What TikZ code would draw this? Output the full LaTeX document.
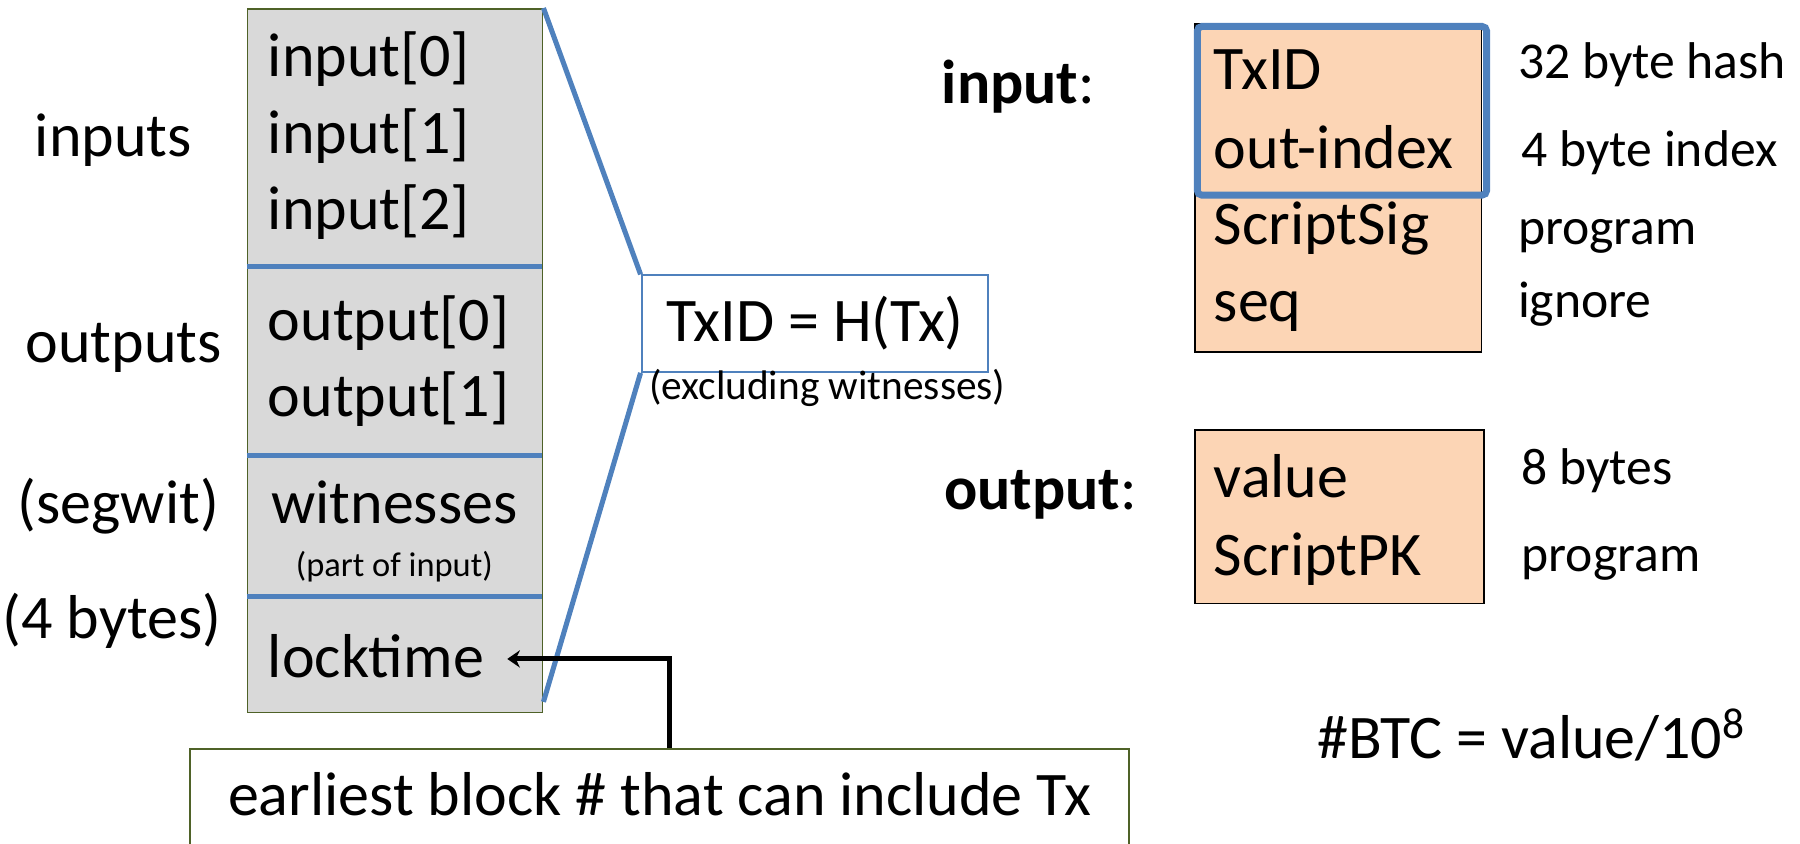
\documentclass[tikz,border=0pt]{standalone}
\usepackage{fontspec}
\setmainfont{Carlito}
\usetikzlibrary{arrows.meta}
\definecolor{gfill}{HTML}{D9D9D9}
\definecolor{olivebd}{HTML}{4F6228}
\definecolor{bl}{HTML}{4F81BD}
\definecolor{tanfill}{HTML}{FCD5B5}
\begin{document}
\begin{tikzpicture}[x=0.5pt,y=-0.5pt,
  txt/.style={anchor=base west, inner sep=0pt, font=\fontsize{27}{32}\selectfont},
  ctxt/.style={anchor=base, inner sep=0pt, font=\fontsize{27}{32}\selectfont},
  note/.style={anchor=base west, inner sep=0pt, font=\fontsize{22.5}{27}\selectfont},
  divider/.style={draw=bl, line width=2.2pt},
  zoomline/.style={draw=bl, line width=2.2pt},
  field/.style={draw=black, line width=0.7pt, fill=tanfill, anchor=north west, inner sep=0pt},
]
\useasboundingbox (0,0) rectangle (1568,735);

% transaction box
\node[draw=olivebd, line width=0.7pt, fill=gfill, anchor=north west, inner sep=0pt,
      minimum width=128.5pt, minimum height=306.5pt] (tx) at (215,7) {};
\draw[divider] (215,232) -- (472,232);
\draw[divider] (215,397) -- (472,397);
\draw[divider] (215,520) -- (472,520);

\node[txt] (in0) at (233,67) {input[0]};
\node[txt] (in1) at (233,134) {input[1]};
\node[txt] (in2) at (233,200) {input[2]};
\node[txt] (out0) at (233,297) {output[0]};
\node[txt] (out1) at (233,363) {output[1]};
\node[ctxt] (wit) at (343.5,456) {witnesses};
\node[anchor=base, inner sep=0pt, font=\fontsize{15}{18}\selectfont] (part) at (343.5,502) {(part of input)};
\node[txt] (lock) at (233,590) {locktime};

% left labels
\node[txt] (linputs) at (30,136) {inputs};
\node[txt] (loutputs) at (22,316) {outputs};
\node[txt] (lsegwit) at (15,456) {(segwit)};
\node[txt] (lbytes) at (2,556) {(4 bytes)};

% TxID box
\node[draw=bl, line width=0.9pt, anchor=north west, inner sep=0pt,
      minimum width=151pt, minimum height=42pt, font=\fontsize{27}{32}\selectfont] (hash) at (558,239) {TxID = H(Tx)};
\node[anchor=base west, inner sep=0pt, font=\fontsize{18}{22}\selectfont] (excl) at (565,348) {(excluding witnesses)};
\draw[zoomline] (tx.north east) -- (hash.north west);
\draw[zoomline] (hash.south west) -- ([yshift=5pt]tx.south east);

% earliest block box
\node[draw=olivebd, line width=0.7pt, anchor=north west, inner xsep=0pt, inner ysep=0pt,
      minimum width=409pt, text height=29pt, text depth=30pt,
      font=\fontsize{27}{32}\selectfont] (earliest) at (165,652) {earliest block \# that can include Tx};
\coordinate (bend) at (583,574);
\draw[line width=2.2pt, -{Stealth[length=5.5pt,width=7.5pt]}]
  (earliest.north -| bend) -- (bend) -- ([xshift=10pt]lock.east |- bend);

% input structure
\node[anchor=base west, inner sep=0pt, font=\fontsize{27}{32}\selectfont] (linput) at (820,90) {\textbf{input}:};
\node[field, minimum width=125pt, minimum height=143pt] (inbox) at (1040,20) {};
\node[draw=bl, line width=3pt, rounded corners=2pt, anchor=north west, inner sep=0pt,
      minimum width=126pt, minimum height=73.5pt] (hl) at (1040,20) {};
\node[txt] (ftxid) at (1057,78) {TxID};
\node[txt] (fidx) at (1057,147) {out-index};
\node[txt] (fsig) at (1057,213) {ScriptSig};
\node[txt] (fseq) at (1057,280) {seq};
\node[note] (n1) at (1322,68) {32 byte hash};
\node[note] (n2) at (1325,145) {4 byte index};
\node[note] (n3) at (1322,213) {program};
\node[note] (n4) at (1322,277) {ignore};

% output structure
\node[anchor=base west, inner sep=0pt, font=\fontsize{27}{32}\selectfont] (loutput) at (822,444) {\textbf{output}:};
\node[field, minimum width=126pt, minimum height=75.5pt] (outbox) at (1040,374) {};
\node[txt] (fval) at (1057,433) {value};
\node[txt] (fpk) at (1057,501) {ScriptPK};
\node[note] (n5) at (1325,422) {8 bytes};
\node[note] (n6) at (1325,498) {program};

\node[txt] (btc) at (1147,661) {\#BTC = value/10\textsuperscript{8}};
\end{tikzpicture}
\end{document}
